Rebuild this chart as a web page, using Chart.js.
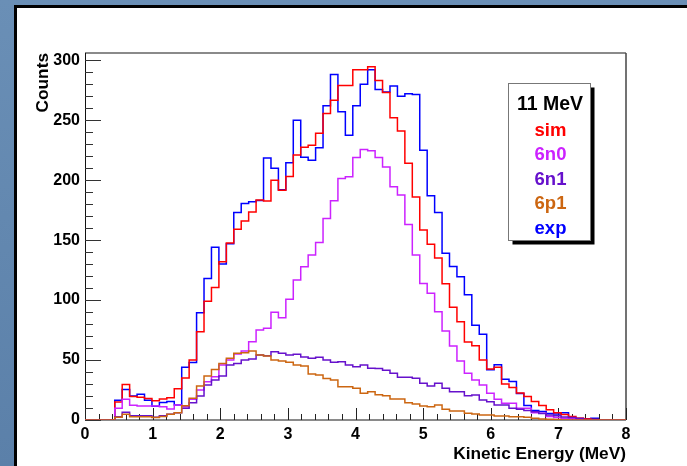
<!DOCTYPE html>
<html>
<head>
<meta charset="utf-8">
<title>11 MeV kinetic energy spectrum</title>
<script src="https://cdn.jsdelivr.net/npm/chart.js@4.4.0/dist/chart.umd.min.js"></script>
<style>
  html, body {
    margin: 0;
    padding: 0;
  }
  body {
    width: 687px;
    height: 466px;
    overflow: hidden;
    position: relative;
    background: linear-gradient(180deg, #6a8fb6 0%, #5b80a9 100%);
  }
  .pad {
    position: absolute;
    left: 14px;
    top: 5px;
    right: 0;
    bottom: 0;
    background: #fff;
    border-top: 3px solid #000;
    border-left: 3px solid #000;
  }
  canvas {
    position: absolute;
    left: 0;
    top: 0;
  }
</style>
</head>
<body>
<div class="pad">
  <canvas id="spectrum" width="670" height="458"></canvas>
</div>

<script>
// histogram bins: 0.11 MeV wide, bin k starts at k * BIN_WIDTH
const BIN_WIDTH = 0.11;

const sim = [
  0, 0, 0, 0, 15, 29.5, 19.5, 19, 18, 16,
  17.5, 18.5, 26, 35, 50, 73.5, 99, 110.5, 132, 147.5,
  159, 166, 173.5, 183.5, 182.5, 200, 191.5, 203, 221, 227.5,
  229, 239, 255.5, 266.5, 279, 279, 292, 292, 294.5, 283,
  273, 252, 241, 214, 186, 158.5, 146.5, 135, 113.5, 94,
  82, 65, 62, 50, 42.5, 44, 30, 27, 22.5, 19.5,
  15.5, 12, 8.5, 6, 4.5, 3, 1.5, 1, 0.5, 0,
  0, 0, 0
];

const exp = [
  0, 0, 0, 0, 16.5, 25.5, 20, 21.5, 16.5, 11.5,
  14.5, 15.5, 12.5, 44, 48, 89.5, 118, 144, 130, 147,
  173, 180.5, 182, 183, 218.5, 210, 192, 214.5, 250, 219,
  216.5, 227, 262, 288, 257, 237.5, 262, 280, 292, 275.5,
  273.5, 278.5, 270, 272, 271.5, 225, 187, 173, 139, 128,
  119.5, 104.5, 79, 71.5, 42, 46, 34, 32, 22, 12,
  8, 7, 5.5, 5, 6, 1.5, 1.5, 0, 1.5, 0,
  0, 0, 0
];

const n0 = [
  0, 0, 0, 0, 9.7, 17.2, 12.2, 11.7, 11.7, 11.7,
  11.1, 9.2, 12.5, 11.1, 17.2, 25, 31.9, 36.1, 45.8, 50,
  55, 57.5, 65.3, 75, 76.4, 89.8, 85.3, 100.6, 116.7, 127.8,
  137.5, 148.1, 168.1, 182.8, 201.4, 202.8, 218.9, 225.6, 224.5, 218.9,
  211, 194.5, 187.5, 163.1, 137.5, 113.9, 105.6, 90.3, 74.2, 61.7,
  49.2, 38.9, 33.3, 29.2, 22.2, 17.2, 13.9, 13.9, 9.7, 9.7,
  6.1, 5.6, 3, 2, 1.5, 1, 0.5, 0, 0, 0,
  0, 0, 0
];

const n1 = [
  0, 0, 0, 0, 2.8, 6.4, 3.6, 3.6, 3.6, 2.2,
  3.6, 4.7, 6.1, 9.7, 14.4, 20, 29.2, 33.3, 36.7, 45.8,
  47.2, 50, 50.9, 54.2, 53.6, 57, 55.6, 54.2, 54.8, 52.5,
  51.4, 52.3, 50, 48.1, 48.6, 45.9, 44.5, 45.9, 43.1, 43,
  41.5, 38.9, 35.6, 35.6, 34.8, 30.6, 28.4, 30.6, 26.4, 23.6,
  23.6, 20.3, 20.9, 16.7, 15.3, 12.5, 12.5, 9.7, 8.9, 8,
  6.9, 5.5, 4.2, 3.5, 2.5, 2, 1, 0.5, 0, 0,
  0, 0, 0
];

const p1 = [
  0, 0, 0, 0, 2.2, 4.7, 2.8, 2.8, 2.8, 2,
  3, 4.7, 6.1, 11.9, 18.1, 28.3, 36.7, 42.2, 47.2, 51.4,
  55.6, 56, 57.5, 54.2, 53.4, 50, 49.2, 48.1, 45.9, 45,
  38.3, 37.5, 34.7, 33.4, 27.8, 27.8, 26.4, 22.3, 23.6, 21,
  20.3, 17.5, 17.5, 14.4, 13.3, 11.7, 11.1, 12.5, 8.9, 7.5,
  7.5, 5.6, 5, 4.2, 4.2, 3.3, 3.3, 2.8, 2.8, 2.2,
  1.4, 0.8, 0.6, 0.5, 0, 0, 0, 0, 0, 0,
  0, 0, 0
];

const legendTitle = '11 MeV';
const seriesNames = ['sim', '6n0', '6n1', '6p1', 'exp'];
const seriesColors = ['#ff0000', '#cc22ff', '#6611cc', '#cc6611', '#0000ff'];

const xTitle = 'Kinetic Energy (MeV)';
const yTitle = 'Counts';

const FONT = '"Liberation Sans", Arial, Helvetica, sans-serif';

// left bin edges, plus the closing edge of the last bin
function toSteps(values) {
  const pts = values.map((v, k) => ({ x: k * BIN_WIDTH, y: v }));
  pts.push({ x: values.length * BIN_WIDTH, y: values[values.length - 1] });
  return pts;
}

function makeDataset(name, values, color, order) {
  return {
    label: name,
    data: toSteps(values),
    borderColor: color,
    borderWidth: 1.5,
    pointRadius: 0,
    stepped: 'before',
    fill: false,
    order: order,
  };
}

/**
 * ROOT style frame: inward ticks, grey top/right frame, boxed legend
 */
const rootFrame = {
  id: 'rootFrame',
  beforeDatasetsDraw(chart) {
    const { ctx, chartArea: a, scales } = chart;
    const x = scales.x;
    const y = scales.y;
    ctx.save();

    // frame
    ctx.lineWidth = 2;
    ctx.strokeStyle = '#8a8a8a';
    ctx.beginPath();
    ctx.moveTo(a.left, a.top);
    ctx.lineTo(a.right, a.top);
    ctx.moveTo(a.left, a.bottom);
    ctx.lineTo(a.right, a.bottom);
    ctx.stroke();
    ctx.lineWidth = 1.5;
    ctx.strokeStyle = '#444';
    ctx.beginPath();
    ctx.moveTo(a.right, a.top);
    ctx.lineTo(a.right, a.bottom);
    ctx.stroke();
    ctx.lineWidth = 1;
    ctx.strokeStyle = '#111';
    ctx.beginPath();
    ctx.moveTo(a.left + 0.5, a.top);
    ctx.lineTo(a.left + 0.5, a.bottom);
    ctx.stroke();

    // x ticks, every 0.2 MeV, longer on whole MeV
    ctx.strokeStyle = '#222';
    ctx.lineWidth = 1;
    ctx.beginPath();
    for (let i = 0; i <= 40; i++) {
      const px = Math.round(x.getPixelForValue(i * 0.2)) + 0.5;
      const len = i % 5 === 0 ? 12 : 6;
      ctx.moveTo(px, a.bottom);
      ctx.lineTo(px, a.bottom - len);
    }
    ctx.stroke();

    // y ticks, every 10 counts, longer every 50
    ctx.strokeStyle = '#333';
    ctx.beginPath();
    for (let v = 0; v <= 300; v += 10) {
      const py = Math.round(y.getPixelForValue(v)) + 0.5;
      const len = v % 50 === 0 ? 16 : 8;
      ctx.moveTo(a.left, py);
      ctx.lineTo(a.left + len, py);
    }
    ctx.stroke();
    ctx.restore();
  },
  afterDraw(chart) {
    const { ctx, chartArea: a } = chart;
    ctx.save();

    // axis titles
    ctx.fillStyle = '#000';
    ctx.font = 'bold 17.3px ' + FONT;
    ctx.textAlign = 'right';
    ctx.textBaseline = 'alphabetic';
    ctx.fillText(xTitle, a.right, 451);

    ctx.translate(31, a.top);
    ctx.rotate(-Math.PI / 2);
    ctx.textAlign = 'right';
    ctx.fillText(yTitle, 0, 0);
    ctx.setTransform(1, 0, 0, 1, 0, 0);

    // legend box with drop shadow
    const bx = 491.5, by = 75.5, bw = 82, bh = 157;
    ctx.fillStyle = '#000';
    ctx.fillRect(bx + 4, by + 4, bw, bh);
    ctx.fillStyle = '#fff';
    ctx.fillRect(bx, by, bw, bh);
    ctx.strokeStyle = '#777';
    ctx.lineWidth = 1;
    ctx.strokeRect(bx, by, bw, bh);

    const cx = bx + bw / 2;
    ctx.textAlign = 'center';
    ctx.fillStyle = '#000';
    ctx.font = 'bold 19.5px ' + FONT;
    ctx.fillText(legendTitle, cx + 0.5, 102);
    ctx.font = 'bold 18.5px ' + FONT;
    seriesNames.forEach((name, i) => {
      ctx.fillStyle = seriesColors[i];
      ctx.fillText(name, cx + 1, 127.5 + i * 24.6);
    });
    ctx.restore();
  },
};

const datasets = [
  makeDataset('6p1', p1, seriesColors[3], 1),
  makeDataset('6n1', n1, seriesColors[2], 2),
  makeDataset('6n0', n0, seriesColors[1], 3),
  makeDataset('sim', sim, seriesColors[0], 4),
  makeDataset('exp', exp, seriesColors[4], 5),
];

new Chart(document.getElementById('spectrum'), {
  type: 'line',
  data: { datasets },
  options: {
    responsive: false,
    animation: false,
    devicePixelRatio: 1,
    layout: { padding: { top: 45, right: 61, left: 0, bottom: 0 } },
    plugins: {
      legend: { display: false },
      tooltip: { enabled: false },
    },
    scales: {
      x: {
        type: 'linear',
        min: 0,
        max: 8,
        grid: { display: false, drawTicks: false },
        border: { display: false },
        ticks: {
          stepSize: 1,
          padding: 5,
          color: '#000',
          font: { family: FONT, size: 16, weight: 'bold' },
          maxRotation: 0,
        },
        afterFit(scale) { scale.height = 46; },
      },
      y: {
        type: 'linear',
        min: 0,
        max: 306,
        grid: { display: false, drawTicks: false },
        border: { display: false },
        ticks: {
          stepSize: 50,
          includeBounds: false,
          padding: 5,
          color: '#000',
          font: { family: FONT, size: 16, weight: 'bold' },
        },
        afterFit(scale) { scale.width = 68; },
      },
    },
  },
  plugins: [rootFrame],
});
</script>
</body>
</html>
